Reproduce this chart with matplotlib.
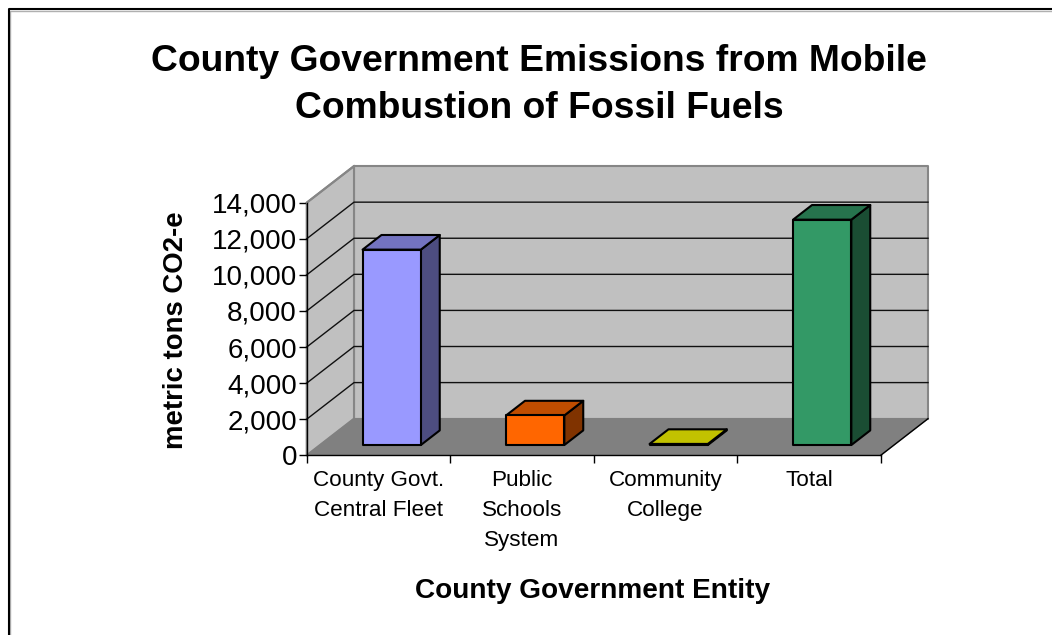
import matplotlib
matplotlib.use("Agg")
import matplotlib.pyplot as plt
from matplotlib.lines import Line2D
from matplotlib.patches import Polygon
from matplotlib.ticker import FuncFormatter

plt.rcParams['font.family'] = ['Liberation Sans', 'DejaVu Sans']

entities = ["County Govt.\nCentral Fleet", "Public\nSchools\nSystem", "Community\nCollege", "Total"]
emissions = [10830, 1640, 60, 12490]
face_colors = ["#9999FF", "#FF6600", "#C2C200", "#339966"]
top_colors = ["#7373C0", "#C04D00", "#C2C200", "#26734D"]
side_colors = ["#4D4D80", "#803300", "#616100", "#1A4D33"]
y_ticks = [0, 2000, 4000, 6000, 8000, 10000, 12000, 14000]

# how far the back wall sits from the front plane, in data units
DEPTH_X = 47.3 / 143.5
DEPTH_Y = 2030
# bars run from this fraction of the depth to the next
BAR_D0, BAR_D1 = 0.28, 0.68
BAR_WIDTH = 0.406


def proj(x, y, d):
    return (x + d * DEPTH_X, y + d * DEPTH_Y)


def poly(ax, pts, face, edge, lw=1.0, z=1):
    ax.add_patch(Polygon(pts, closed=True, facecolor=face, edgecolor=edge, linewidth=lw,
                         joinstyle='round', clip_on=False, zorder=z))


fig = plt.figure(figsize=(10.52, 6.35), dpi=100, facecolor='white')

# chart frame, only top and left fall inside the picture
for color, off, lw in [('#B0B0B0', 1.5, 1.0), ('black', 0, 1.5)]:
    xf = (8.5 + off) / 1052
    yf = 1 - (9 + off) / 635
    fig.add_artist(Line2D([xf, xf, 1], [0, yf, yf], transform=fig.transFigure, color=color, lw=lw))

ax = fig.add_axes([306.7 / 1052, (635 - 455.3) / 635, 574 / 1052, 252.6 / 635])
ax.set_xlim(0, 4)
ax.set_ylim(0, 14000)
ax.patch.set_visible(False)

n = len(entities)
top = y_ticks[-1]

# walls and floor
poly(ax, [proj(0, 0, 1), proj(n, 0, 1), proj(n, top, 1), proj(0, top, 1)], '#C0C0C0', '#868686', 1.5, 1)
poly(ax, [proj(0, 0, 0), proj(0, 0, 1), proj(0, top, 1), proj(0, top, 0)], '#C0C0C0', '#868686', 1.5, 1)
poly(ax, [proj(0, 0, 0), proj(n, 0, 0), proj(n, 0, 1), proj(0, 0, 1)], '#808080', '#808080', 1.0, 1.5)
ax.plot(*zip(proj(n, 0, 0), proj(n, 0, 1)), color='black', lw=1.0, clip_on=False, zorder=1.6)

# gridlines go along the back wall and down the side wall
for v in y_ticks[1:-1]:
    ax.plot(*zip(proj(0, v, 0), proj(0, v, 1), proj(n, v, 1)), color='#101010', lw=1.0,
            clip_on=False, zorder=2)
ax.plot(*zip(proj(0, top, 0), proj(0, top, 1)), color='#868686', lw=1.5, clip_on=False, zorder=2)

# bars
for i, val in enumerate(emissions):
    x0 = i + 0.5 - BAR_WIDTH / 2
    x1 = i + 0.5 + BAR_WIDTH / 2
    z = 3 + i * 0.1
    poly(ax, [proj(x1, 0, BAR_D0), proj(x1, 0, BAR_D1), proj(x1, val, BAR_D1), proj(x1, val, BAR_D0)],
         side_colors[i], 'black', 1.5, z)
    poly(ax, [proj(x0, val, BAR_D0), proj(x1, val, BAR_D0), proj(x1, val, BAR_D1), proj(x0, val, BAR_D1)],
         top_colors[i], 'black', 1.5, z)
    poly(ax, [proj(x0, 0, BAR_D0), proj(x1, 0, BAR_D0), proj(x1, val, BAR_D0), proj(x0, val, BAR_D0)],
         face_colors[i], 'black', 1.5, z)

for s in ['top', 'right']:
    ax.spines[s].set_visible(False)
for s in ['left', 'bottom']:
    ax.spines[s].set_linewidth(1.0)
    ax.spines[s].set_zorder(5)

ax.set_yticks(y_ticks)
ax.yaxis.set_major_formatter(FuncFormatter(lambda v, p: f"{int(v):,}"))
ax.tick_params(axis='y', labelsize=20, length=6, width=1.0, pad=1)
ax.set_xticks(range(n + 1))
ax.set_xticklabels([])
ax.tick_params(axis='x', which='major', length=6, width=1.0)
ax.set_xticks([i + 0.5 for i in range(n)], minor=True)
ax.set_xticklabels(entities, minor=True, fontsize=16.2, linespacing=1.56)
ax.tick_params(axis='x', which='minor', length=0, pad=10.5)

fig.text(539 / 1052, 1 - 85 / 635, "County Government Emissions from Mobile\nCombustion of Fossil Fuels",
         ha='center', va='center', fontsize=26.8, fontweight='bold', linespacing=1.41)
fig.text(593 / 1052, 1 - 591 / 635, "County Government Entity", ha='center', va='center',
         fontsize=20.2, fontweight='bold')
fig.text(176 / 1052, 1 - 330 / 635, "metric tons CO2-e", ha='center', va='center', rotation=90,
         fontsize=19.8, fontweight='bold')

fig.savefig("out.png", dpi=100)
